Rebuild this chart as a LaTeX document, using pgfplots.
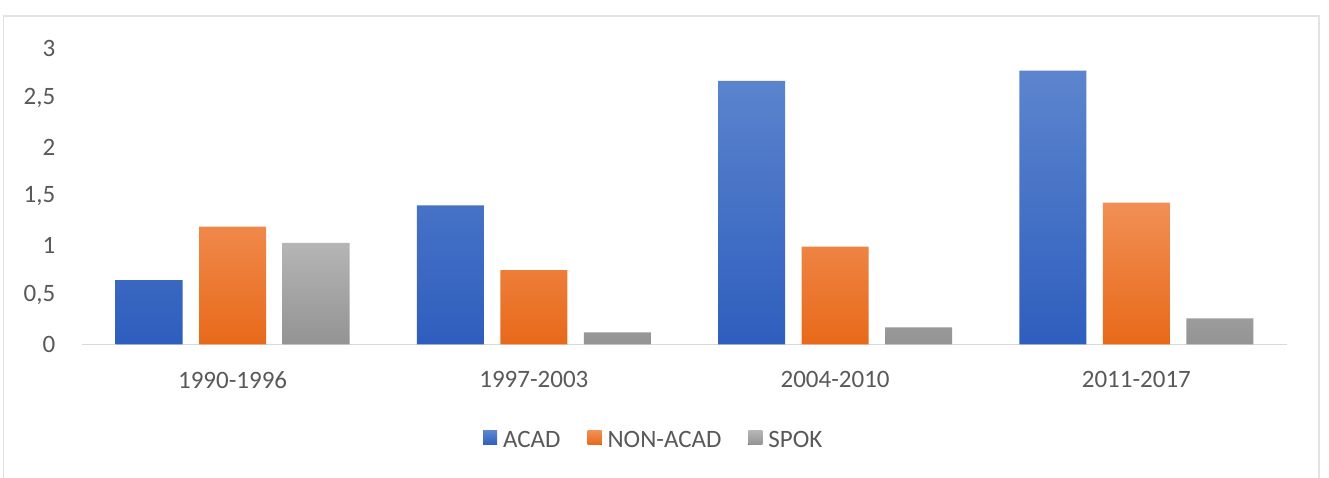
\documentclass[border=0pt]{standalone}
\usepackage{pgfplots}
\pgfplotsset{compat=1.18}
\usepackage{fontspec}
\setmainfont{Carlito}
\definecolor{textgray}{HTML}{595959}
\definecolor{bluetop}{HTML}{5D85CE}
\definecolor{bluebot}{HTML}{2E5EBE}
\definecolor{orangetop}{HTML}{F18F55}
\definecolor{orangebot}{HTML}{E8691A}
\definecolor{graytop}{HTML}{B5B5B5}
\definecolor{graybot}{HTML}{939393}
\definecolor{framegray}{HTML}{E3E3E3}
\definecolor{axisgray}{HTML}{D9D9D9}
\begin{document}
\begin{tikzpicture}[x=1pt,y=1pt]
\useasboundingbox (0,0) rectangle (1329,478);
\fill[white] (0,0) rectangle (1329,478);
\draw[framegray, line width=1.2pt] (3.5,-10) -- (3.5,462) -- (1319,462) -- (1319,-10);
\begin{axis}[
  at={(82pt,133.5pt)}, anchor=south west,
  scale only axis, width=1205pt, height=296pt,
  xmin=-0.5, xmax=3.5, ymin=0, ymax=3,
  axis x line*=bottom, axis y line*=left,
  x axis line style={axisgray, line width=1.2pt, -},
  y axis line style={draw=none, -},
  major tick length=0pt,
  xtick={0,1,2,3},
  xticklabels={1990-1996,1997-2003,2004-2010,2011-2017},
  ytick={0,0.5,1,1.5,2,2.5,3},
  /pgf/number format/use comma,
  /pgf/number format/assume math mode=true,
  every tick label/.append style={font=\fontsize{25}{30}\selectfont, text=textgray, inner sep=0pt},
  yticklabel style={anchor=east, xshift=-26.5pt},
  xticklabel style={anchor=north, yshift=-27pt},
  ybar=16.5pt, bar width=67pt,
  legend style={at={(0.4745,-0.322)}, anchor=center, draw=none, fill=none,
    font=\fontsize{25}{30}\selectfont, text=textgray, legend columns=3,
    /tikz/every odd column/.append style={column sep=4pt},
    /tikz/every even column/.append style={column sep=25pt}},
  legend image code/.code={\fill[#1] (0pt,-5pt) rectangle (14pt,9pt);},
]
\addplot[draw=none, top color=bluetop, bottom color=bluebot] coordinates {(0,0.653) (1,1.410) (2,2.673) (3,2.776)};
\addplot[draw=none, top color=orangetop, bottom color=orangebot] coordinates {(0,1.194) (1,0.755) (2,0.991) (3,1.437)};
\addplot[draw=none, top color=graytop, bottom color=graybot] coordinates {(0,1.031) (1,0.124) (2,0.174) (3,0.265)};
\legend{ACAD,NON-ACAD,SPOK}
\end{axis}
\end{tikzpicture}
\end{document}
